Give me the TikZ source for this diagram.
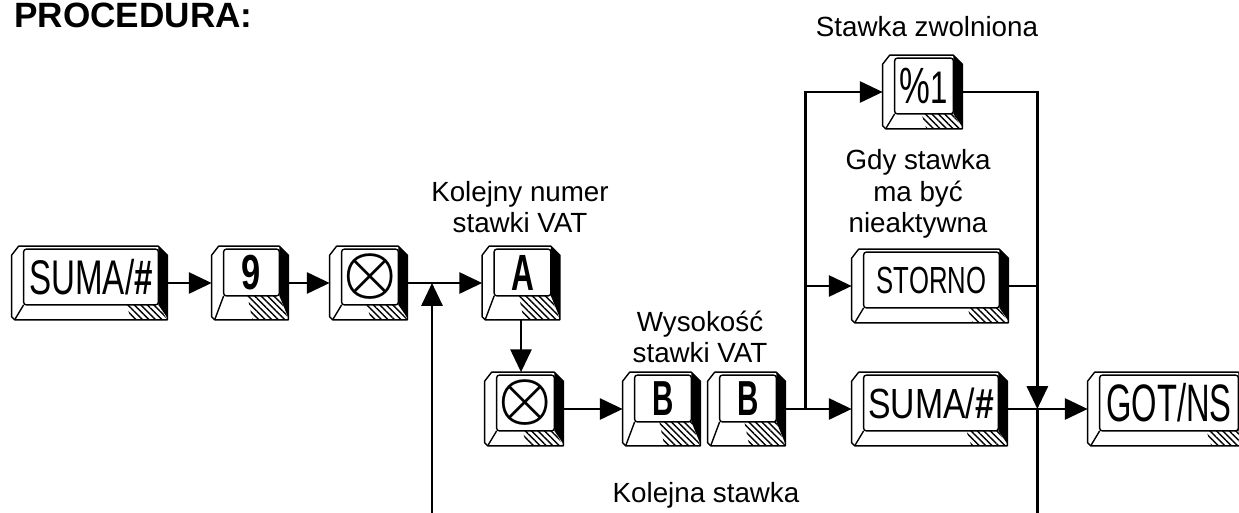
\documentclass[tikz,border=0pt]{standalone}
\usepackage{fontspec}
\setmainfont{Liberation Sans}
\usetikzlibrary{arrows.meta, calc, patterns.meta}

\newcommand{\pxu}{0.02cm}
\newcommand{\keylab}[3]{\scalebox{#1}[1]{\fontsize{#2}{#2}\selectfont #3}}
% #1 name, #2 centre, #3 width, #4 front edge, #5 label
\newcommand{\keycap}[5]{%
	\node[keybox, minimum width=#3*\pxu] (#1) at (#2) {};
	\coordinate (#1tl) at ($(#1.north west)+(12,3)$);
	\coordinate (#1br) at ($(#1.south east)+(-9,-#4)$);
	\coordinate (#1bl) at (#1tl |- #1br);
	\draw[keyline, fill=white] ($(#1.north west)+(0,9)$) -- ($(#1.north west)+(7,0)$)
		-- ($(#1.north east)+(-9,0)$) -- ($(#1.north east)+(0,9)$)
		-- (#1.south east) -- ($(#1.south west)+(3,0)$) -- ($(#1.south west)+(0,-3)$) -- cycle;
	\fill[black] ($(#1.north east)+(-9,0)$) -- ($(#1.north east)+(0,9)$)
		-- ($(#1.south east)+(0,-2)$) -- (#1br) -- cycle;
	\fill[hatch] ($(#1br)+(-32,0)$) -- (#1br) -- (#1.south east) -- ($(#1.south east)+(-36,0)$) -- cycle;
	\draw[keyline] (#1bl) -- ($(#1.south west)+(3,0)$);
	\draw[keyline, fill=white, rounded corners=1.5pt] (#1tl) rectangle (#1br);
	\node[keytext] at ($(#1tl)!0.5!(#1br)$) {#5};
}

\tikzset{
	keybox/.style={rectangle, minimum height=73*\pxu, inner sep=0pt},
	keyline/.style={line width=0.8pt, line join=round},
	hatch/.style={pattern={Lines[angle=-45, distance=2.6pt, line width=0.8pt]}},
	keytext/.style={inner sep=0pt},
	flow/.style={line width=1.5pt, -{Triangle[length=13pt, width=12pt]}},
	link/.style={line width=1.5pt},
	note/.style={inner sep=0pt, align=center, font=\fontsize{15.8}{18}\selectfont},
	heading/.style={inner sep=0pt, font=\bfseries\fontsize{20}{24}\selectfont}
}

\begin{document}
\begin{tikzpicture}[x=0.02cm, y=-0.02cm]
	\clip (0,0) rectangle (1239,513);

	\node[heading, anchor=base west] (proc) at (14,28) {PROCEDURA:};

	% first row
	\keycap{sumaA}{89.5,283}{155}{15}{\keylab{0.68}{27.7}{SUMA/\textbf{\#}}}
	\keycap{nine}{250,283}{76}{24}{\keylab{0.7}{28}{\textbf{9}}}
	\keycap{timesA}{368.5,283}{77}{15}{\scalebox{3.4}{\boldmath$\otimes$}}
	\keycap{keyA}{521,283}{77}{24}{\keylab{0.62}{29}{\textbf{A}}}

	% second row
	\keycap{timesB}{524,409}{78}{15}{\scalebox{3.4}{\boldmath$\otimes$}}
	\keycap{bOne}{661.5,409}{77}{24}{\keylab{0.6}{28}{\textbf{B}}}
	\keycap{bTwo}{746.5,409}{77}{24}{\keylab{0.6}{28}{\textbf{B}}}
	\keycap{sumaB}{929.5,409}{155}{15}{\keylab{0.8}{24}{SUMA/\textbf{\#}}}
	\keycap{gotns}{1167.5,409}{159}{15}{\keylab{0.62}{30}{GOT/NS}}

	% branches
	\keycap{pctOne}{922.5,92}{79}{15}{\keylab{0.68}{29}{\%\fontsize{26}{26}\selectfont 1}}
	\keycap{storno}{930,286}{156}{15}{\keylab{0.68}{21.5}{STORNO}}

	\node[note] (rateFree) at (927,27) {Stawka zwolniona};
	\node[note] (inactive) at (918,194) {Gdy stawka\\ma być\\nieaktywna};
	\node[note] (nextNo) at (520,207) {Kolejny numer\\stawki VAT};
	\node[note] (rateVal) at (700,337) {Wysokość\\stawki VAT};
	\node[note] (nextRate) at (706,495) {Kolejna stawka};

	\coordinate (split) at ($(bTwo.east)+(20,0)$);
	\coordinate (join) at ($(sumaB.east)+(30,0)$);
	\coordinate (loopA) at (432,513);
	\coordinate (loopB) at (join |- loopA);

	\draw[flow] (sumaA) -- (nine);
	\draw[flow] (nine) -- (timesA);
	\draw[flow] (timesA) -- (keyA);
	\draw[flow] (loopA) -- (loopA |- keyA.west);
	\draw[flow] (keyA) -- (keyA |- timesB.north);
	\draw[flow] (timesB) -- (bOne);
	\draw[flow] (bTwo) -- (sumaB);
	\draw[flow] (split) |- (pctOne.west);
	\draw[flow] (split |- storno.west) -- (storno);
	\draw[flow] (pctOne.east) -| (join);
	\draw[link] (storno.east) -- (storno.east -| join);
	\draw[flow] (sumaB) -- (gotns);
	\draw[link] (join) -- (loopB);
\end{tikzpicture}
\end{document}
